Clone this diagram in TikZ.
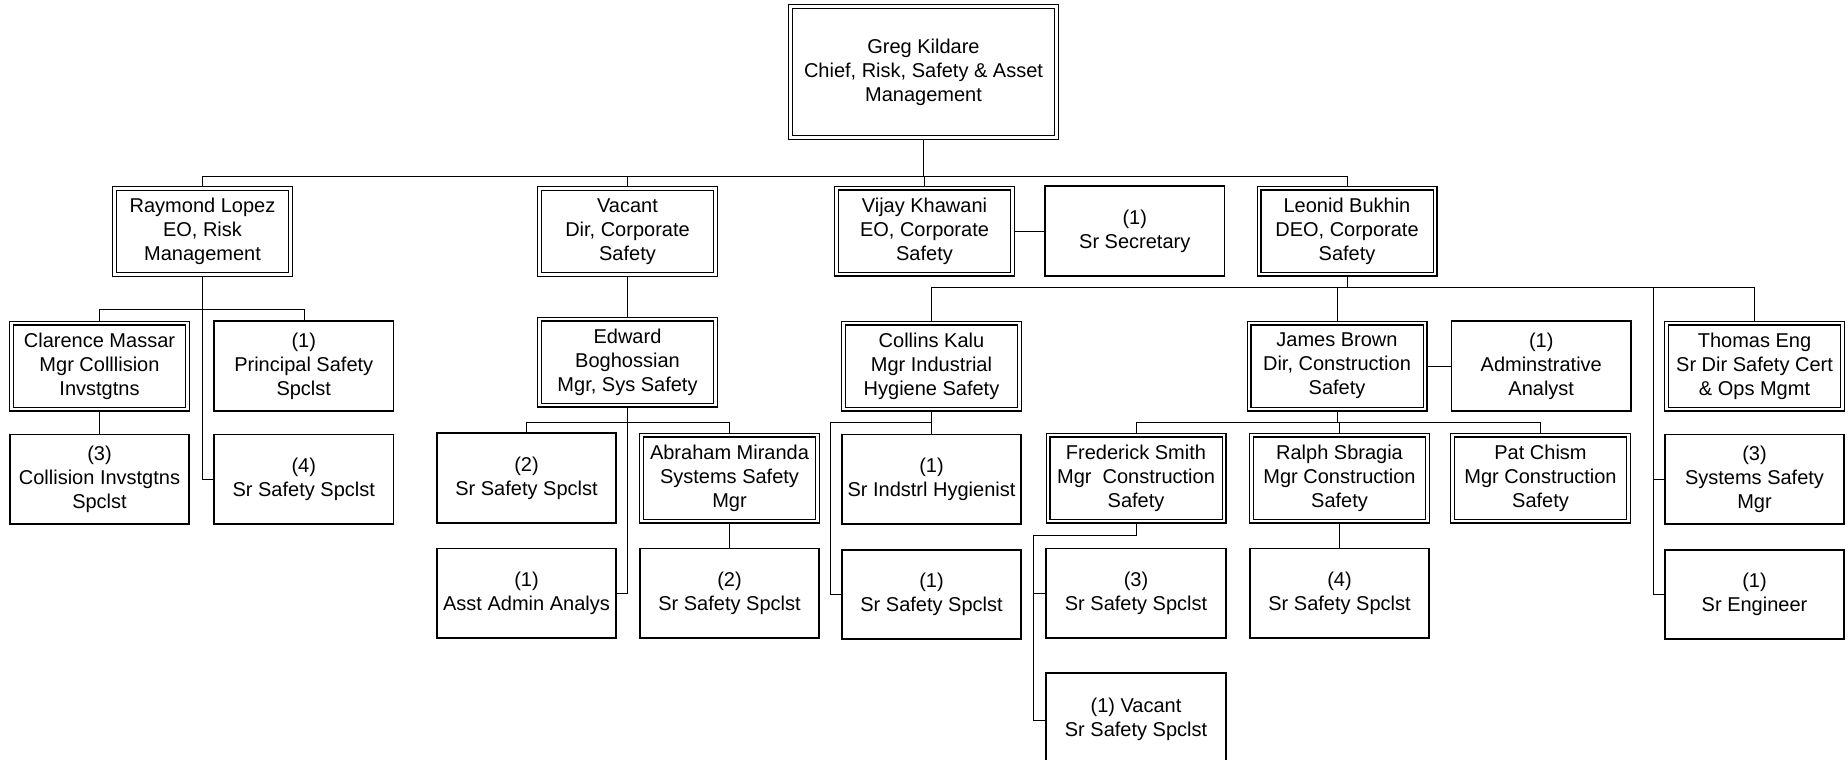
\documentclass[tikz,border=0pt]{standalone}
\usepackage{fontspec}
\setmainfont{Liberation Sans}
\usetikzlibrary{positioning, backgrounds}
\tikzset{posn/.style = {draw, line width=1.7pt, fill=white, align=center,
        minimum width=179.5pt, minimum height=89.5pt, inner sep=2pt,
        font=\fontsize{20}{24}\selectfont},
    mgr/.style = {posn, double, line width=1.3pt, double distance=2.4pt,
        minimum width=176pt, minimum height=86pt},
    link/.style = {line width=1.7pt}}

\begin{document}
\begin{tikzpicture}[x=1pt, y=-1pt]
    \useasboundingbox (0,0) rectangle (1848,760);

    \node[mgr,minimum width=266pt,minimum height=131pt] (gk) at (923.5,72) {Greg Kildare\\Chief, Risk, Safety \& Asset\\Management};

    \node[mgr] (rl) at (202.5,231.5) {Raymond Lopez\\EO, Risk\\Management};
    \node[mgr] (vac) at (627.5,231.5) {Vacant\\Dir, Corporate\\Safety};
    \node[mgr] (vk) at (924.5,231) {Vijay Khawani\\EO, Corporate\\Safety};
    \node[posn] (sec) [right=31pt of vk] {(1)\\Sr Secretary};
    \node[mgr] (lb) at (1347,231) {Leonid Bukhin\\DEO, Corporate\\Safety};

    \node[mgr] (cm) at (99.5,366) {Clarence Massar\\Mgr Colllision\\Invstgtns};
    \node[posn] (ps) [right=25pt of cm] {(1)\\Principal Safety\\Spclst};
    \node[posn] (ci) [below=24pt of cm] {(3)\\Collision Invstgtns\\Spclst};
    \node[posn] (rl4) [below=22pt of ps] {(4)\\Sr Safety Spclst};

    \node[mgr] (eb) at (627.5,362) {Edward\\Boghossian\\Mgr, Sys Safety};
    \node[posn] (eb2) at (526.5,478) {(2)\\Sr Safety Spclst};
    \node[posn] (asst) [below=24pt of eb2] {(1)\\Asst Admin Analys};
    \node[mgr] (am) at (729.5,478) {Abraham Miranda\\Systems Safety\\Mgr};
    \node[posn] (am2) [below=26pt of am] {(2)\\Sr Safety Spclst};

    \node[mgr] (ck) at (931.5,366) {Collins Kalu\\Mgr Industrial\\Hygiene Safety};
    \node[posn] (ih) [below=24pt of ck] {(1)\\Sr Indstrl Hygienist};
    \node[posn] (ck1) [below=24pt of ih] {(1)\\Sr Safety Spclst};

    \node[mgr] (jb) at (1337,366) {James Brown\\Dir, Construction\\Safety};
    \node[posn] (aa) [right=25pt of jb] {(1)\\Adminstrative\\Analyst};
    \node[mgr] (fs) at (1136,478) {Frederick Smith\\Mgr~~Construction\\Safety};
    \node[posn] (fs3) [below=26pt of fs] {(3)\\Sr Safety Spclst};
    \node[posn,minimum height=94pt] (fsv) [below=33pt of fs3] {(1) Vacant\\Sr Safety Spclst};
    \node[mgr] (rs) at (1339.5,478) {Ralph Sbragia\\Mgr Construction\\Safety};
    \node[posn] (rs4) [below=26pt of rs] {(4)\\Sr Safety Spclst};
    \node[mgr] (pc) at (1540.5,478) {Pat Chism\\Mgr Construction\\Safety};

    \node[mgr] (te) at (1754.5,366) {Thomas Eng\\Sr Dir Safety Cert\\\& Ops Mgmt};
    \node[posn] (ssm) [below=24pt of te] {(3)\\Systems Safety\\Mgr};
    \node[posn] (eng) [below=24pt of ssm] {(1)\\Sr Engineer};

    \begin{scope}[on background layer, link]
        \foreach \kid in {rl, vac, vk, lb}
            \draw (gk.south) -- ++(0,38.5) -| (\kid.north);
        \foreach \kid in {cm, ps}
            \draw (rl.south) -- ++(0,34.5) -| (\kid.north);
        \draw (rl.south) |- (rl4.west);
        \draw (cm) -- (ci);
        \draw (vac) -- (eb);
        \foreach \kid in {eb2, am}
            \draw (eb.south) -- ++(0,17) -| (\kid.north);
        \draw (eb.south) |- (asst.east);
        \draw (am) -- (am2);
        \draw (vk) -- (sec);
        \foreach \kid in {ck, jb, te}
            \draw (lb.south) -- ++(0,12.5) -| (\kid.north);
        \draw (lb.south) -- ++(0,12.5) -| ([xshift=-11pt]eng.west) -- (eng.west);
        \draw ([xshift=-11pt]ssm.west) -- (ssm.west);
        \draw (ck) -- (ih);
        \draw (ck.south) -- ++(0,13) -| ([xshift=-11pt]ck1.west) -- (ck1.west);
        \draw (jb) -- (aa);
        \foreach \kid in {fs, rs, pc}
            \draw (jb.south) -- ++(0,13) -| (\kid.north);
        \draw (fs.south) -- ++(0,14) -| ([xshift=-12pt]fsv.west) -- (fsv.west);
        \draw ([xshift=-12pt]fs3.west) -- (fs3.west);
        \draw (rs) -- (rs4);
    \end{scope}
\end{tikzpicture}
\end{document}
